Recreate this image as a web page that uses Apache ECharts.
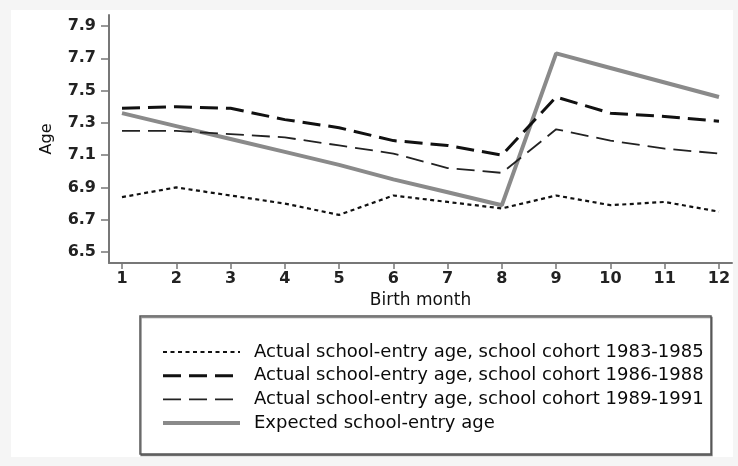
<!DOCTYPE html>
<html>
<head>
<meta charset="utf-8">
<script src="https://cdn.jsdelivr.net/npm/echarts@6/dist/echarts.min.js"></script>
<style>
html,body{margin:0;padding:0;background:#f5f5f5;}
#chart{width:738px;height:466px;}
</style>
</head>
<body>
<div id="chart"></div>
<script>
const months = [1,2,3,4,5,6,7,8,9,10,11,12];
const yTicks = [6.5,6.7,6.9,7.1,7.3,7.5,7.7,7.9];
const seriesNames = [
  'Actual school-entry age, school cohort 1983-1985',
  'Actual school-entry age, school cohort 1986-1988',
  'Actual school-entry age, school cohort 1989-1991',
  'Expected school-entry age'
];
const cohort8385 = [6.84,6.90,6.85,6.80,6.73,6.85,6.81,6.77,6.85,6.79,6.81,6.75];
const cohort8688 = [7.39,7.40,7.39,7.32,7.27,7.19,7.16,7.10,7.46,7.36,7.34,7.31];
const cohort8991 = [7.25,7.25,7.23,7.21,7.16,7.11,7.02,6.99,7.26,7.19,7.14,7.11];
const expected   = [7.36,7.28,7.20,7.12,7.04,6.95,6.87,6.79,7.73,7.64,7.55,7.46];

const FONT = 'DejaVu Sans';
const pairs = arr => months.map((m,i)=>[m,arr[i]]);
const styles = [
  {color:'#111', width:2.2, type:[4,3.5]},
  {color:'#111', width:3, type:[18,8]},
  {color:'#222', width:1.8, type:[18,8]},
  {color:'#8a8a8a', width:4, type:'solid'}
];

const chart = echarts.init(document.getElementById('chart'), null, {renderer:'canvas'});
chart.setOption({
  backgroundColor:'#f5f5f5',
  animation:false,
  graphic:[
    {type:'rect', z:-10, shape:{x:11,y:10,width:722,height:447}, style:{fill:'#ffffff'}},
    {type:'rect', z:-5, shape:{x:140,y:316,width:571,height:138},
     style:{fill:'#ffffff', stroke:'#555555', lineWidth:1.5, shadowColor:'rgba(0,0,0,0.45)', shadowOffsetX:1, shadowOffsetY:1.5, shadowBlur:0}}
  ],
  grid:{left:109, right:6, top:15, bottom:203, containLabel:false},
  xAxis:{
    type:'value', min:0.7605, max:12.24,
    name:'Birth month', nameLocation:'middle', nameGap:23,
    nameTextStyle:{fontFamily:FONT, fontSize:17, color:'#111'},
    axisLine:{show:true, lineStyle:{color:'#777', width:2}},
    axisTick:{show:true, length:6, customValues:months, lineStyle:{color:'#777', width:1.5}},
    axisLabel:{customValues:months, fontFamily:FONT, fontSize:16, fontWeight:'bold', color:'#222', margin:8},
    splitLine:{show:false}
  },
  yAxis:{
    type:'value', min:6.4319, max:7.968,
    name:'Age', nameLocation:'middle', nameGap:54, nameRotate:90,
    nameTextStyle:{fontFamily:FONT, fontSize:16, color:'#111'},
    axisLine:{show:true, lineStyle:{color:'#777', width:2}},
    axisTick:{show:true, length:8, customValues:yTicks, lineStyle:{color:'#777', width:1.5}},
    axisLabel:{customValues:yTicks, fontFamily:FONT, fontSize:16, fontWeight:'bold', color:'#222', margin:13,
      formatter:v=>v.toFixed(1)},
    splitLine:{show:false}
  },
  legend:{
    orient:'vertical', left:161, top:343,
    itemWidth:77, itemHeight:17, itemGap:5.7,
    padding:0,
    itemStyle:{opacity:0},
    textStyle:{fontFamily:FONT, fontSize:18, color:'#0a0a0a', padding:[0,0,0,9], lineHeight:17},
    data:seriesNames.map((n,i)=>({name:n, itemStyle:{opacity:0}, lineStyle:{color:styles[i].color, width:styles[i].width, type:styles[i].type}})),
    selectedMode:false
  },
  series:[
    {name:seriesNames[0], type:'line', data:pairs(cohort8385), symbol:'none', z:3, lineStyle:styles[0]},
    {name:seriesNames[1], type:'line', data:pairs(cohort8688), symbol:'none', z:3, lineStyle:styles[1]},
    {name:seriesNames[2], type:'line', data:pairs(cohort8991), symbol:'none', z:3, lineStyle:styles[2]},
    {name:seriesNames[3], type:'line', data:pairs(expected), symbol:'none', z:2, lineStyle:styles[3]}
  ]
});
</script>
</body>
</html>
